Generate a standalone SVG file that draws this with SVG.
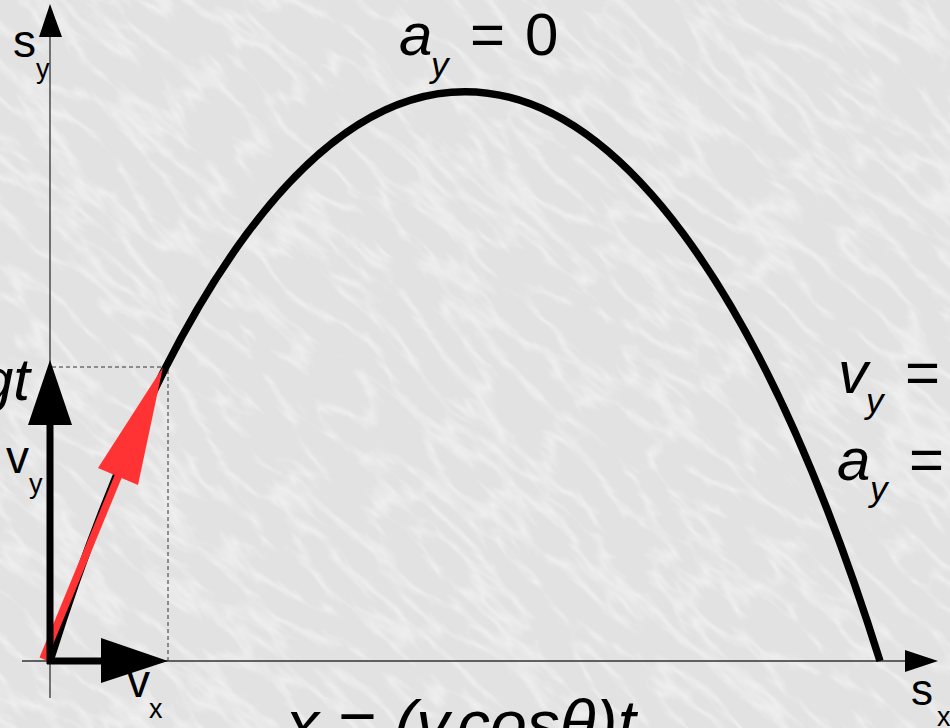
<svg xmlns="http://www.w3.org/2000/svg" width="950" height="728" viewBox="0 0 950 728">
  <defs>
    <filter id="marble" x="-300" y="-300" width="1550" height="1328" filterUnits="userSpaceOnUse">
      <feTurbulence type="turbulence" baseFrequency="0.012 0.035" numOctaves="3" seed="11" result="t"/>
      <feColorMatrix in="t" type="matrix" values="0 0 0 0 1  0 0 0 0 1  0 0 0 0 1  -2.8 0 0 0 0.85"/>
    </filter>
    <style>
      .lbl { font-family: "Liberation Sans", Arial, sans-serif; fill: #000; }
      .it { font-style: italic; }
      .axis { stroke: #333; stroke-width: 1.3; fill: none; }
      .dash { stroke: #333; stroke-width: 1; stroke-dasharray: 4 3; fill: none; }
      .vec { stroke: #000; stroke-width: 7; fill: none; }
      .red { stroke: #ff3333; stroke-width: 7.5; fill: none; }
    </style>
  </defs>

  <g id="background">
    <rect x="0" y="0" width="950" height="728" fill="#e2e2e2"/>
    <g transform="rotate(42 475 364)">
      <rect x="-300" y="-300" width="1550" height="1328" filter="url(#marble)" opacity="0.55"/>
    </g>
  </g>

  <g id="connectors">
    <!-- axes -->
    <line class="axis" x1="22" y1="661" x2="908" y2="661"/>
    <polygon points="905,650 905,672 938,661" fill="#000"/>
    <line class="axis" x1="50" y1="698" x2="50" y2="34"/>
    <polygon points="39,37 62,37 50,4" fill="#000"/>
    <!-- dashed projection -->
    <polyline class="dash" points="52,367 168,367 168,661"/>
    <!-- trajectory -->
    <path d="M50,661 C288,-98 642,-98 880,661" fill="none" stroke="#000" stroke-width="7.5"/>
    <!-- red velocity -->
    <line class="red" x1="43" y1="659" x2="120" y2="472"/>
    <polygon points="163,367 98,468 138,485" fill="#ff3333"/>
    <!-- vy vector -->
    <line class="vec" x1="50" y1="664" x2="50" y2="420"/>
    <polygon points="28,425 72,425 50,360" fill="#000"/>
    <!-- vx vector -->
    <line class="vec" x1="47" y1="661" x2="105" y2="661"/>
    <polygon points="101,638 101,683 168,661" fill="#000"/>
  </g>

  <g id="label-sy">
    <text class="lbl" x="13" y="57" font-size="46">s</text>
    <text class="lbl" x="36" y="78" font-size="27">y</text>
  </g>
  <g id="label-sx">
    <text class="lbl" x="911" y="705" font-size="44">s</text>
    <text class="lbl" x="937" y="726" font-size="27">x</text>
  </g>
  <g id="label-vy">
    <text class="lbl" x="6" y="473" font-size="46">v</text>
    <text class="lbl" x="29" y="493" font-size="27">y</text>
  </g>
  <g id="label-vx">
    <text class="lbl" x="127" y="697" font-size="46">v</text>
    <text class="lbl" x="149" y="718" font-size="27">x</text>
  </g>
  <g id="label-gt">
    <text class="lbl it" x="30" y="400" font-size="60" text-anchor="end">gt</text>
  </g>
  <g id="label-top">
    <text class="lbl it" x="399" y="55" font-size="60">a</text>
    <text class="lbl it" x="431" y="77" font-size="35">y</text>
    <text class="lbl" x="470" y="55" font-size="60">=</text>
    <text class="lbl" x="525" y="55" font-size="60">0</text>
  </g>
  <g id="label-right-vy">
    <text class="lbl it" x="838" y="393" font-size="60">v</text>
    <text class="lbl it" x="866" y="413" font-size="35">y</text>
    <text class="lbl" x="905" y="393" font-size="60">=</text>
  </g>
  <g id="label-right-ay">
    <text class="lbl it" x="837" y="480" font-size="60">a</text>
    <text class="lbl it" x="870" y="501" font-size="35">y</text>
    <text class="lbl" x="909" y="480" font-size="60">=</text>
  </g>
  <g id="label-bottom">
    <text class="lbl it" x="286" y="747" font-size="66">x = (v</text>
    <text class="lbl it" x="457" y="747" font-size="66">cosθ)t</text>
  </g>
</svg>
